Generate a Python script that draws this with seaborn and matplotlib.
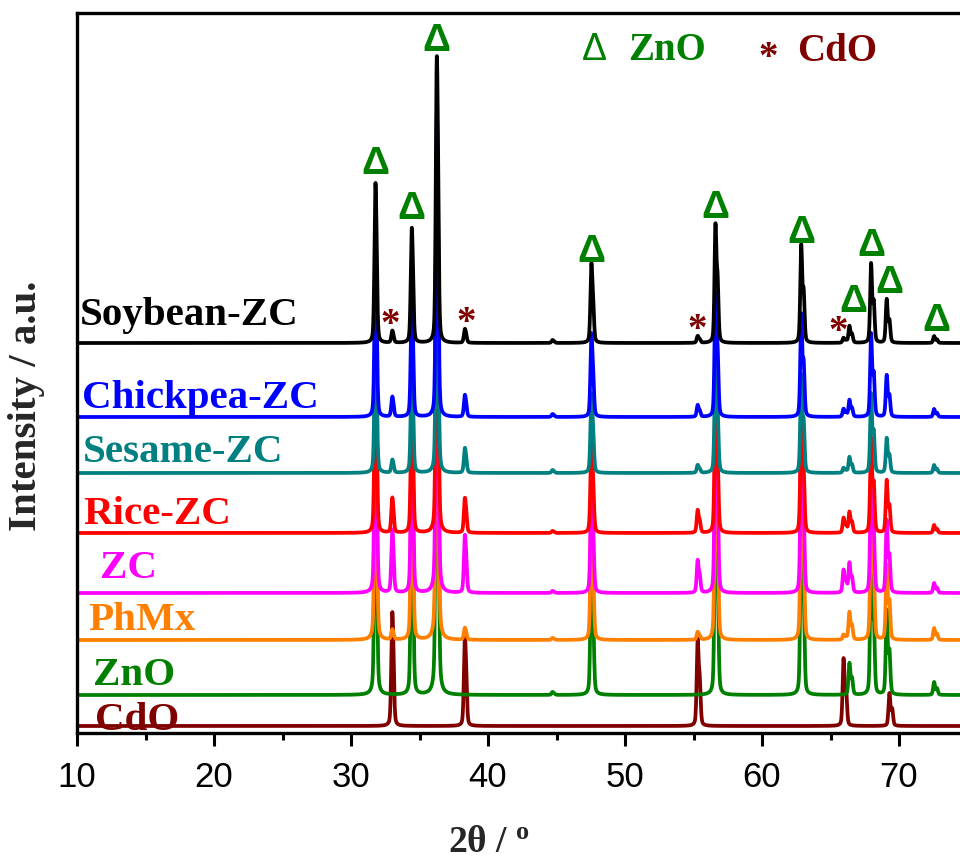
import numpy as np
import pandas as pd
import seaborn as sns
from matplotlib import pyplot as plt
from matplotlib.ticker import MultipleLocator

# stacked XRD patterns, top to bottom
samples = ["Soybean-ZC", "Chickpea-ZC", "Sesame-ZC", "Rice-ZC", "ZC", "PhMx", "ZnO", "CdO"]
colors = ["#000000", "#0000FF", "#008080", "#FF0000", "#FF00FF", "#FF8000", "#008000", "#800000"]
offsets = [390, 316, 260, 200, 140, 93, 38, 7]  # vertical shift of each pattern (a.u.)

# ZnO reflections (2theta) and peak heights per sample
zno_pos = [31.77, 34.42, 36.25, 47.54, 56.60, 62.86, 66.38, 67.96, 69.10, 72.56]
zno_h = {
    "Soybean-ZC":  [160, 115, 287, 80, 120, 99, 17, 80, 44, 7],
    "Chickpea-ZC": [165, 120, 300, 84, 125, 104, 17, 84, 42, 8],
    "Sesame-ZC":   [160, 115, 287, 80, 120, 99, 16, 80, 35, 8],
    "Rice-ZC":     [190, 138, 345, 96, 144, 119, 21, 96, 53, 8],
    "ZC":          [240, 172, 430, 120, 180, 148, 30, 120, 73, 10],
    "PhMx":        [270, 195, 488, 136, 204, 168, 28, 136, 75, 12],
    "ZnO":         [305, 220, 545, 152, 228, 188, 32, 152, 85, 13],
    "CdO":         [0, 0, 0, 0, 0, 0, 0, 0, 0, 0],
}
# CdO reflections
cdo_pos = [33.00, 38.30, 55.30, 65.95, 69.30]
cdo_h = {
    "Soybean-ZC":  [12, 14, 7, 5, 0],
    "Chickpea-ZC": [20, 22, 12, 8, 0],
    "Sesame-ZC":   [13, 25, 8, 5, 0],
    "Rice-ZC":     [35, 35, 23, 15, 0],
    "ZC":          [63, 58, 33, 23, 0],
    "PhMx":        [10, 12, 8, 5, 0],
    "ZnO":         [0, 0, 0, 0, 0],
    "CdO":         [114, 89, 88, 68, 33],
}
# weak reflection near 44.7
extra_pos = [44.7]
extra_h = {"Soybean-ZC": [3], "Chickpea-ZC": [3], "Sesame-ZC": [3], "Rice-ZC": [2],
           "ZC": [2], "PhMx": [2], "ZnO": [3], "CdO": [0]}

# marker annotations
delta_dx = [0, 0, 0, 0, 0, 0, 0.26, 0, 0.2, 0.15]
delta_gap = [9, 9, 5, 1, 5, 1, 14, 7, 6, 5]
star_dx = [-0.15, 0.1, -0.05, -0.4]
label_x = [10.22, 10.36, 10.44, 10.44, 11.68, 10.8, 11.17, 11.31]
label_dy = [18, 9, 11, 9, 15, 10, 10, -4]

tt = np.arange(10, 75.001, 0.01)


def doublet(x, c, fwhm, eta):
    d = np.degrees(2 * np.tan(np.radians(c / 2)) * 0.00251)
    s = 0
    for cc, w in ((c, 1.0), (c + d, 0.5)):
        u = (x - cc) / fwhm
        s = s + w * (eta / (1 + 4 * u ** 2) + (1 - eta) * np.exp(-4 * np.log(2) * u ** 2))
    return s


def peak(x, c, fwhm=0.16, eta=0.35):
    # Cu Ka1/Ka2 doublet, pseudo-Voigt, max normalised to 1
    fine = np.linspace(c - 0.5, c + 0.5, 2001)
    return doublet(x, c, fwhm, eta) / doublet(fine, c, fwhm, eta).max()


rows = []
for name, off in zip(samples, offsets):
    y = np.zeros_like(tt) + off
    for pos, hh in ((zno_pos, zno_h[name]), (cdo_pos, cdo_h[name]), (extra_pos, extra_h[name])):
        for p, a in zip(pos, hh):
            if a > 0:
                y += a * peak(tt, p)
    rows.append(pd.DataFrame({"tt": tt, "I": y, "sample": name}))
df = pd.concat(rows, ignore_index=True)

sns.set_style("ticks")
plt.rcParams['font.family'] = ['Liberation Serif', 'DejaVu Serif']
plt.rcParams['mathtext.fontset'] = 'custom'
plt.rcParams['mathtext.bf'] = 'Liberation Serif:bold'
plt.rcParams['mathtext.rm'] = 'Liberation Serif'

fig = plt.figure(figsize=(9.6, 8.59), dpi=100)
ax = fig.add_axes([77 / 960, 126 / 859, 883 / 960, 720 / 859])

# bottom pattern first so the upper ones sit on top
sns.lineplot(data=df, x="tt", y="I", hue="sample", hue_order=samples[::-1],
             palette=colors[::-1], estimator=None, sort=False, legend=False,
             linewidth=2.7, ax=ax)

ax.set_xlim(10, 74.45)
ax.set_ylim(0, 720)
ax.set_yticks([])
ax.set_xlabel("")
ax.set_ylabel("")
ax.xaxis.set_major_locator(MultipleLocator(10))
ax.xaxis.set_minor_locator(MultipleLocator(5))
ax.tick_params(axis="x", which="major", direction="out", length=9, width=2.2, pad=11,
               labelsize=25, labelfontfamily="Liberation Sans", color="black",
               labelcolor="black")
ax.tick_params(axis="x", which="minor", direction="out", length=5, width=2.2, color="black")
for s in ["left", "bottom", "top"]:
    ax.spines[s].set_linewidth(2.4)
    ax.spines[s].set_color("black")
ax.spines["right"].set_visible(False)

# sample names
for name, col, off, lx, dy in zip(samples, colors, offsets, label_x, label_dy):
    ax.text(lx, off + dy, name, color=col, fontsize=29.5, fontweight="bold",
            ha="left", va="baseline")

# ZnO markers over Soybean-ZC
top = offsets[0]
for p, h, dx, g in zip(zno_pos, zno_h["Soybean-ZC"], delta_dx, delta_gap):
    ax.text(p + dx, top + h + g, "Δ", color="#008000", fontsize=28, fontweight="bold",
            family="Liberation Sans", ha="center", va="baseline")
# CdO markers
for p, h, dx in zip(cdo_pos[:4], cdo_h["Soybean-ZC"][:4], star_dx):
    ax.text(p + dx, top + h - 4, "*", color="#800000", fontsize=28, fontweight="bold",
            ha="center", va="baseline")

# key
ax.text(47.74, 673, "Δ", color="#008000", fontsize=27, family="Liberation Sans",
        ha="center", va="baseline")
ax.text(50.22, 673, "ZnO", color="#008000", fontsize=28, fontweight="bold",
        ha="left", va="baseline")
ax.text(60.44, 665, "*", color="#800000", fontsize=28, fontweight="bold",
        ha="center", va="baseline")
ax.text(62.55, 672, "CdO", color="#800000", fontsize=28, fontweight="bold",
        ha="left", va="baseline")

fig.text(27 / 960, 1 - 406 / 859, "Intensity / a.u.", rotation=90, fontsize=29.5,
         fontweight="bold", ha="center", va="center")
fig.text(448 / 960, 1 - 852 / 859, r"2θ / $\mathbf{^{o}}$", fontsize=27,
         fontweight="bold", ha="left", va="baseline")

fig.savefig("out.png", dpi=100)
plt.close()
